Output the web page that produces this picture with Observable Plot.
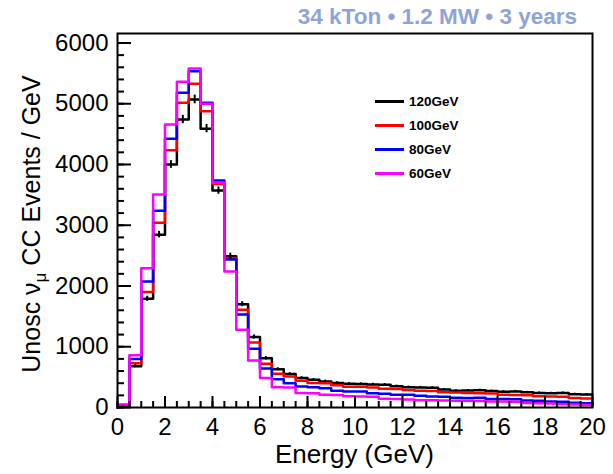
<!DOCTYPE html>
<html><head><meta charset="utf-8">
<script src="https://cdn.jsdelivr.net/npm/d3@7"></script>
<script src="https://cdn.jsdelivr.net/npm/@observablehq/plot@0.6"></script>
<style>
body{margin:0;background:#fff;}
#wrap{position:relative;width:613px;height:474px;}
#legend{position:absolute;left:375px;top:89px;font:bold 13.5px "Liberation Sans",Arial,sans-serif;color:#000;}
.item{display:flex;align-items:center;height:24px;}
.sw{width:29px;height:0;border-top:3px solid;margin-right:5px;}
</style></head><body><div id="wrap"><div id="legend"></div></div>
<script>
// Bin lower edges (GeV), 0.5 GeV bins from 0 to 20
const binLow = d3.range(0, 20, 0.5);
// Unoscillated numu CC events / GeV per bin
const nu120 = [30,680,1790,2845,4000,4740,5070,4590,3570,2490,1700,1160,810,630,550,485,455,430,405,390,385,380,375,350,335,330,325,295,275,280,285,270,260,265,250,240,235,240,220,215];
const nu100 = [35,730,1900,3040,4235,5015,5330,4875,3680,2460,1610,1070,720,555,510,440,405,400,365,340,340,330,310,305,290,275,270,250,245,240,235,230,210,205,200,185,180,175,155,150];
const nu80  = [40,800,2075,3240,4425,5180,5535,5015,3735,2435,1530,965,640,465,400,345,335,315,275,265,265,235,225,210,208,195,180,175,160,155,160,140,140,135,115,110,100,95,80,70];
const nu60  = [50,860,2290,3505,4660,5360,5580,5000,3700,2240,1280,775,485,335,330,240,235,210,205,185,180,175,145,140,130,120,118,115,112,110,108,100,98,95,75,70,65,55,48,42];
const seriesNames = ["120GeV","100GeV","80GeV","60GeV"];
const seriesColors = ["#000000","#ff0000","#0000ff","#ff00ff"];
const yMajor = [0,1000,2000,3000,4000,5000,6000];
const yMinor = d3.range(0, 6001, 200);
const xMajor = [0,2,4,6,8,10,12,14,16,18,20];
const xMinor = d3.range(0, 20.001, 0.5);
const titleText = "34 kTon \u2022 1.2 MW \u2022 3 years";

const W = 613, H = 474, mL = 117, mR = 21, mT = 33, mB = 67;
const frameW = W - mL - mR, frameH = H - mT - mB;
const series = [nu120, nu100, nu80, nu60];
const stepData = series.map(vals => [{x: 0, y: 0}, ...vals.map((v, i) => ({x: binLow[i], y: v})), {x: 20, y: vals[vals.length - 1]}]);
const errData = binLow.map((lo, i) => ({x: lo + 0.25, v: nu120[i]}));

const plot = Plot.plot({
  width: W, height: H,
  marginLeft: mL, marginRight: mR, marginTop: mT, marginBottom: mB,
  x: {domain: [0, 20], axis: null},
  y: {domain: [0, 6156], axis: null},
  style: {fontFamily: '"Liberation Sans", Arial, sans-serif', background: "white", color: "black"},
  marks: [
    ...stepData.map((d, k) => Plot.line(d, {x: "x", y: "y", curve: "step-after", stroke: seriesColors[k], strokeWidth: 2.5})),
    Plot.ruleX(errData, {x: "x", y1: d => d.v - Math.sqrt(d.v), y2: d => d.v + Math.sqrt(d.v), stroke: "black", strokeWidth: 2}),
    Plot.tickY(yMinor, {y: d => d, insetRight: frameW - 7, stroke: "black", strokeWidth: 2}),
    Plot.tickY(yMajor, {y: d => d, insetRight: frameW - 14, stroke: "black", strokeWidth: 2}),
    Plot.tickX(xMinor, {x: d => d, insetTop: frameH - 6, stroke: "black", strokeWidth: 2}),
    Plot.tickX(xMajor, {x: d => d, insetTop: frameH - 11, stroke: "black", strokeWidth: 2}),
    Plot.frame({stroke: "black", strokeWidth: 2}),
    Plot.text(yMajor, {y: d => d, text: d => String(d), frameAnchor: "left", textAnchor: "end", dx: -9, fontSize: 24}),
    Plot.text(xMajor, {x: d => d, text: d => String(d), frameAnchor: "bottom", lineAnchor: "top", dy: 10, fontSize: 24})
  ]
});
document.getElementById("wrap").prepend(plot);

const svg = d3.select(plot);
svg.append("text").attr("x", mL + frameW / 2).attr("y", 463).attr("text-anchor", "middle")
  .attr("font-size", 26).attr("fill", "black").text("Energy (GeV)");
const yt = svg.append("text").attr("transform", `translate(40, 224) rotate(-90)`)
  .attr("text-anchor", "middle").attr("font-size", 25).attr("fill", "black");
yt.append("tspan").text("Unosc \u03bd");
yt.append("tspan").attr("font-size", 17).attr("dy", 6).text("\u03bc");
yt.append("tspan").attr("dy", -6).text(" CC Events / GeV");
svg.append("text").attr("x", 577).attr("y", 24).attr("text-anchor", "end")
  .attr("font-size", 22.5).attr("font-weight", "bold").attr("fill", "#8ea4d9").text(titleText);

const legend = d3.select("#legend");
seriesNames.forEach((name, k) => {
  const it = legend.append("div").attr("class", "item");
  it.append("div").attr("class", "sw").style("border-top-color", seriesColors[k]);
  it.append("span").text(name);
});
</script>
</body></html>
